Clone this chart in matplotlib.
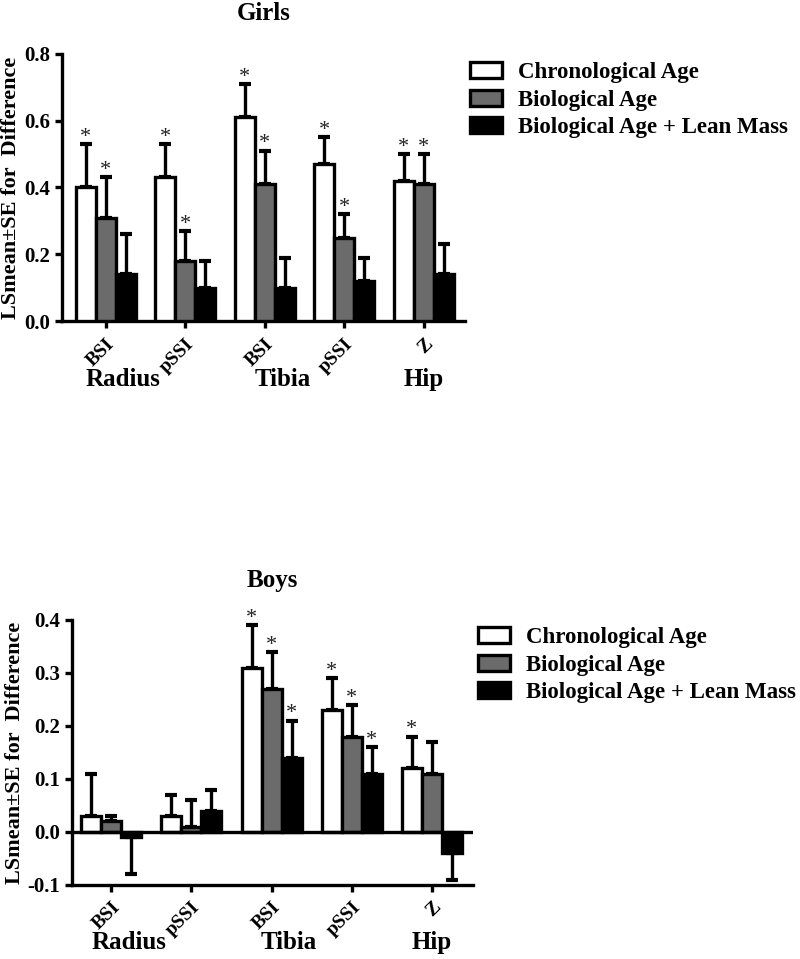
import matplotlib
matplotlib.use("Agg")
import matplotlib.pyplot as plt
from matplotlib.patches import Patch
import numpy as np

plt.rcParams['font.family'] = ['Liberation Serif', 'DejaVu Serif']
plt.rcParams['font.weight'] = 'bold'

sites = ["BSI", "pSSI", "BSI", "pSSI", "Z"]
groups = ["Radius", "Tibia", "Hip"]
group_pos = [0.22, 2.22, 4.0]
series = ["Chronological Age", "Biological Age", "Biological Age + Lean Mass"]
colors = ["white", "#6b6b6b", "black"]

# Girls: means, SE, significance
girls_chrono = [0.40, 0.43, 0.61, 0.47, 0.42]
girls_chrono_se = [0.13, 0.10, 0.10, 0.08, 0.08]
girls_bio = [0.31, 0.18, 0.41, 0.25, 0.41]
girls_bio_se = [0.12, 0.09, 0.10, 0.07, 0.09]
girls_lean = [0.14, 0.10, 0.10, 0.12, 0.14]
girls_lean_se = [0.12, 0.08, 0.09, 0.07, 0.09]
girls_sig = [[1, 1, 1, 1, 1], [1, 1, 1, 1, 1], [0, 0, 0, 0, 0]]

# Boys
boys_chrono = [0.03, 0.03, 0.31, 0.23, 0.12]
boys_chrono_se = [0.08, 0.04, 0.08, 0.06, 0.06]
boys_bio = [0.02, 0.01, 0.27, 0.18, 0.11]
boys_bio_se = [0.01, 0.05, 0.07, 0.06, 0.06]
boys_lean = [-0.01, 0.04, 0.14, 0.11, -0.04]
boys_lean_se = [0.07, 0.04, 0.07, 0.05, 0.05]
boys_sig = [[0, 0, 1, 1, 1], [0, 0, 1, 1, 0], [0, 0, 1, 1, 0]]

fig = plt.figure(figsize=(8, 9.59), dpi=100)
ax_g = fig.add_axes([0.0775, 0.665, 0.504, 0.279])
ax_b = fig.add_axes([0.09, 0.0772, 0.501, 0.2763])

lw = 2.4
width = 0.25


def draw(ax, vals, ses, sig, ylim, yticks, xlim, title, leg_xy):
    x = np.arange(len(sites))
    for i, (v, se) in enumerate(zip(vals, ses)):
        v = np.array(v)
        se = np.array(se)
        xs = x + (i - 1) * width
        ax.bar(xs, v, width, color=colors[i], edgecolor="black", linewidth=lw, zorder=3)
        lower = np.where(v < 0, se, 0)
        upper = np.where(v >= 0, se, 0)
        ax.errorbar(xs, v, yerr=[lower, upper], fmt="none", ecolor="black",
                    elinewidth=2.4, capsize=4.5, capthick=3, zorder=2)
        for j in range(len(sites)):
            if sig[i][j]:
                ax.annotate("*", (xs[j], v[j] + se[j]), xytext=(0, -2),
                            textcoords="offset points", ha="center", va="bottom",
                            fontsize=16, fontweight="normal", color="#222222")
    ax.set_xlim(*xlim)
    ax.set_ylim(*ylim)
    ax.set_yticks(yticks)
    ax.set_yticklabels(["%.1f" % t for t in yticks], fontsize=15, fontweight="bold")
    ax.set_xticks(x)
    ax.set_xticklabels(sites, rotation=45, ha="right", va="top",
                       rotation_mode="anchor", fontsize=14, fontweight="bold")
    for s in ["top", "right"]:
        ax.spines[s].set_visible(False)
    for s in ["left", "bottom"]:
        ax.spines[s].set_linewidth(2.4)
    ax.tick_params(axis="both", width=2.4, length=5, direction="out")
    ax.tick_params(axis="x", pad=5)
    ax.set_ylabel("LSmean\u00b1SE for  Difference", fontsize=16, fontweight="bold", labelpad=2)
    for g, p in zip(groups, group_pos):
        ax.annotate(g, (p, 0), xycoords=("data", "axes fraction"), xytext=(0, -58),
                    textcoords="offset pixels", ha="center", va="center",
                    fontsize=18, fontweight="bold")
    ax.set_title(title, fontsize=18, fontweight="bold", pad=24)
    handles = [Patch(facecolor=c, edgecolor="black", linewidth=lw) for c in colors]
    ax.legend(handles, series, loc="upper left", bbox_to_anchor=leg_xy,
              bbox_transform=fig.transFigure, frameon=False, borderpad=0,
              borderaxespad=0, handlelength=1.4, handleheight=0.7,
              handletextpad=0.7, labelspacing=0.28,
              prop={"size": 16.5, "weight": "bold"})


draw(ax_g, [girls_chrono, girls_bio, girls_lean],
     [girls_chrono_se, girls_bio_se, girls_lean_se], girls_sig,
     (0, 0.8), [0.0, 0.2, 0.4, 0.6, 0.8], (-0.55, 4.52), "Girls", (0.5875, 0.935))

draw(ax_b, [boys_chrono, boys_bio, boys_lean],
     [boys_chrono_se, boys_bio_se, boys_lean_se], boys_sig,
     (-0.1, 0.4), [-0.1, 0.0, 0.1, 0.2, 0.3, 0.4], (-0.49, 4.51), "Boys", (0.5975, 0.346))
ax_b.axhline(0, color="black", linewidth=2.4, zorder=4)

fig.savefig("out.png", dpi=100)
